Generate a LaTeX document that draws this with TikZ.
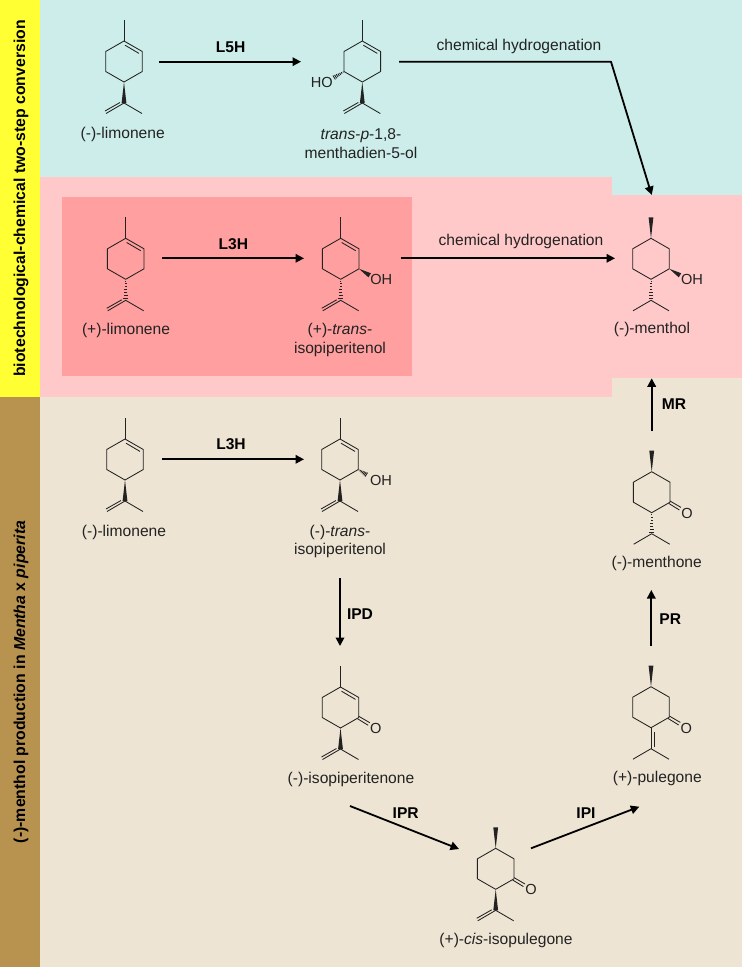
\documentclass[tikz,border=0pt]{standalone}
\usepackage{fontspec}
\setmainfont{Liberation Sans}
\usetikzlibrary{arrows.meta,calc}
\definecolor{bgteal}{HTML}{CCEDE9}
\definecolor{bgpink}{HTML}{FFC9C9}
\definecolor{bgred}{HTML}{FF9F9F}
\definecolor{bgbeige}{HTML}{EDE4D3}
\definecolor{bgyellow}{HTML}{FFFF33}
\definecolor{bgbrown}{HTML}{B89350}
\definecolor{ink}{HTML}{222222}
\tikzset{
  x=1pt,y=-1pt,
  bond/.style={draw=ink,line width=0.85pt,line join=round},
  rxn/.style={draw=black,line width=1.8pt,-{Triangle[length=8.5pt,width=8.5pt]}},
  lbl/.style={text=ink,inner sep=0pt,align=center,yshift=-1.5pt,font=\fontsize{15.6}{18.5}\selectfont},
  atomlbl/.style={text=ink,inner sep=0pt,yshift=-0.5pt,font=\fontsize{14.6}{18}\selectfont},
  enz/.style={text=black,inner sep=0pt,yshift=-1pt,font=\fontsize{15.6}{18}\selectfont\bfseries},
  side/.style={text=black,inner sep=0pt,rotate=90,font=\fontsize{15.8}{18}\selectfont\bfseries},
}
% ring atoms and bonds, local origin on the top ring atom
\newcommand{\molring}{%
  \coordinate (a1) at (0,0); \coordinate (a2) at (18.3,10.5);
  \coordinate (a3) at (18.3,30.5); \coordinate (a4) at (0,41);
  \coordinate (a5) at (-18.3,30.5); \coordinate (a6) at (-18.3,10.5);
  \coordinate (me) at (0,-21); \coordinate (iso) at (0,62);
  \coordinate (meL) at (-18,72.5); \coordinate (meR) at (18,72.5);
  \draw[bond] (a1)--(a2)--(a3)--(a4)--(a5)--(a6)--cycle;}
\newcommand{\ringene}{\draw[bond] (1,4.2)--(15,12.4);}
\newcommand{\wedgebond}[2]{\fill[ink] (#1) -- ($(#2)!2.4pt!90:(#1)$) -- ($(#2)!2.4pt!-90:(#1)$) -- cycle;}
\newcommand{\hashbond}[2]{\foreach \t/\w in {0.08/0.5,0.22/0.8,0.36/1.1,0.50/1.4,0.64/1.7,0.78/2.0,0.92/2.3}{
    \draw[ink,line width=0.9pt] ($(#1)!\t!(#2)!\w pt!90:(#2)$) -- ($(#1)!\t!(#2)!\w pt!-90:(#2)$);}}
\newcommand{\methylline}{\draw[bond] (a1)--(me);}
\newcommand{\methylwedge}{\wedgebond{a1}{me}}
\newcommand{\isopropenyl}{\draw[bond] (meL)--(iso)--(meR) (-4,61.5)--(-19,70);}
\newcommand{\isopropyl}{\draw[bond] (meL)--(iso)--(meR);}
\newcommand{\ketone}[1]{\draw[bond] (18.3,29.3)--(29.3,35.7) (17,31.7)--(27.7,38.3);
  \node[atomlbl] (#1) at (35.4,41) {O};}
\begin{document}
\begin{tikzpicture}
\useasboundingbox (0,0) rectangle (742,967);
% background panels
\fill[bgbeige] (40,378) rectangle (742,967);
\fill[bgteal] (40,0) rectangle (742,197);
\fill[bgpink] (40,177) rectangle (612,397);
\fill[bgpink] (612,195) rectangle (742,378);
\fill[bgred] (62,197) rectangle (412,376);
\fill[bgyellow] (0,0) rectangle (40,397);
\fill[bgbrown] (0,397) rectangle (40,967);
\node[side] (sideA) at (21,198.5) {biotechnological-chemical two-step conversion};
\node[side] (sideB) at (21,682) {(-)-menthol production in \textit{Mentha} x \textit{piperita}};

% (-)-limonene, top
\begin{scope}[shift={(124,41)}]
  \molring \ringene \methylline \wedgebond{a4}{iso} \isopropenyl
\end{scope}
\node[lbl] (t1) at (122.7,132.5) {(-)-limonene};
% trans-p-1,8-menthadien-5-ol
\begin{scope}[shift={(362.3,41)}]
  \molring \ringene \methylline \wedgebond{a4}{iso} \isopropenyl
  \coordinate (hoEnd) at (-29,37); \hashbond{a5}{hoEnd}
  \node[atomlbl] (ho) at (-40.6,41.3) {HO};
\end{scope}
\node[lbl] (t2) at (361,142) {\textit{trans}-\textit{p}-1,8-\\menthadien-5-ol};
% (+)-limonene
\begin{scope}[shift={(125.7,238.3)}]
  \molring \ringene \methylline \hashbond{a4}{iso} \isopropenyl
\end{scope}
\node[lbl] (t3) at (126,329) {(+)-limonene};
% (+)-trans-isopiperitenol
\begin{scope}[shift={(340.7,238.3)}]
  \molring \ringene \methylline \hashbond{a4}{iso} \isopropenyl
  \coordinate (ohEnd) at (29,37); \wedgebond{a3}{ohEnd}
  \node[atomlbl] (oh1) at (40.5,41) {OH};
\end{scope}
\node[lbl] (t4) at (340,338.7) {(+)-\textit{trans}-\\isopiperitenol};
% (-)-menthol
\begin{scope}[shift={(651,238.3)}]
  \molring \methylwedge \hashbond{a4}{iso} \isopropyl
  \coordinate (ohEnd) at (29,37); \wedgebond{a3}{ohEnd}
  \node[atomlbl] (oh2) at (41,40.5) {OH};
\end{scope}
\node[lbl] (t5) at (652,327.7) {(-)-menthol};
% (-)-limonene, lower
\begin{scope}[shift={(125,439)}]
  \molring \ringene \methylline \wedgebond{a4}{iso} \isopropenyl
\end{scope}
\node[lbl] (t6) at (124,531) {(-)-limonene};
% (-)-trans-isopiperitenol
\begin{scope}[shift={(340,439)}]
  \molring \ringene \methylline \wedgebond{a4}{iso} \isopropenyl
  \coordinate (ohEnd) at (27,36); \hashbond{a3}{ohEnd}
  \node[atomlbl] (oh3) at (41,41.3) {OH};
\end{scope}
\node[lbl] (t7) at (340,540) {(-)-\textit{trans}-\\isopiperitenol};
% (-)-isopiperitenone
\begin{scope}[shift={(340.5,687)}]
  \molring \ringene \methylline \wedgebond{a4}{iso} \isopropenyl \ketone{o1}
\end{scope}
\node[lbl] (t8) at (351,778.3) {(-)-isopiperitenone};
% (-)-menthone
\begin{scope}[shift={(651.7,471.7)}]
  \molring \methylwedge \hashbond{a4}{iso} \isopropyl \ketone{o2}
\end{scope}
\node[lbl] (t9) at (656.7,561.7) {(-)-menthone};
% (+)-pulegone
\begin{scope}[shift={(651,686.7)}]
  \molring \methylwedge \ketone{o3} \isopropyl \draw[bond] (a4)--(iso) (3,45)--(3,60);
\end{scope}
\node[lbl] (t10) at (657.3,776.7) {(+)-pulegone};
% (+)-cis-isopulegone
\begin{scope}[shift={(495.7,848.3)}]
  \molring \methylwedge \wedgebond{a4}{iso} \isopropenyl \ketone{o4}
\end{scope}
\node[lbl] (t11) at (506,939) {(+)-\textit{cis}-isopulegone};

% reaction arrows
\coordinate (r1s) at (159.3,61.7); \coordinate (r1e) at (301,61.7);
\draw[rxn] (r1s) -- (r1e);
\node[enz] (e1) at (230.7,46.7) {L5H};
\coordinate (r2s) at (399,61.7); \coordinate (r2c) at (611,61.7); \coordinate (r2e) at (651.7,195);
\draw[rxn,line join=round] (r2s) -- (r2c) -- (r2e);
\node[lbl] (e2) at (519,45) {chemical hydrogenation};
\coordinate (r3s) at (162.3,258.3); \coordinate (r3e) at (304,258.3);
\draw[rxn] (r3s) -- (r3e);
\node[enz] (e3) at (233.3,243.3) {L3H};
\coordinate (r4s) at (400.7,258.3); \coordinate (r4e) at (615,258.3);
\draw[rxn] (r4s) -- (r4e);
\node[lbl] (e4) at (521,240) {chemical hydrogenation};
\coordinate (r5s) at (162,459.3); \coordinate (r5e) at (304,459.3);
\draw[rxn] (r5s) -- (r5e);
\node[enz] (e5) at (231,443.5) {L3H};
\coordinate (r6s) at (340,578.3); \coordinate (r6e) at (340,646);
\draw[rxn] (r6s) -- (r6e);
\node[enz] (e6) at (360,613.3) {IPD};
\coordinate (r7s) at (350,806); \coordinate (r7e) at (459,849);
\draw[rxn] (r7s) -- (r7e);
\node[enz] (e7) at (405.7,812.3) {IPR};
\coordinate (r8s) at (531,848.3); \coordinate (r8e) at (639.3,806.7);
\draw[rxn] (r8s) -- (r8e);
\node[enz] (e8) at (586,812.3) {IPI};
\coordinate (r9s) at (651.3,645.7); \coordinate (r9e) at (651.3,590);
\draw[rxn] (r9s) -- (r9e);
\node[enz] (e9) at (670.3,618.3) {PR};
\coordinate (r10s) at (651.7,431); \coordinate (r10e) at (651.7,378.3);
\draw[rxn] (r10s) -- (r10e);
\node[enz] (e10) at (674,403) {MR};
\end{tikzpicture}
\end{document}
